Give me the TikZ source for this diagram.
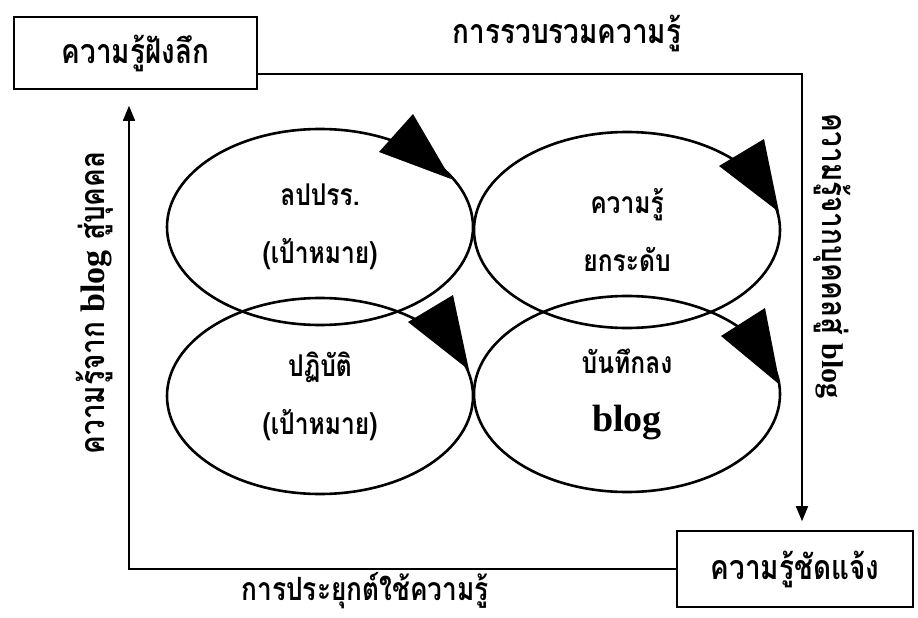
\documentclass[tikz,border=0pt]{standalone}
\usepackage{fontspec}
\setmainfont{Liberation Serif}
\newfontfamily\thai[Script=Thai,FakeStretch=0.82]{Loma}
\usetikzlibrary{arrows.meta,shapes.geometric}
\begin{document}
\begin{tikzpicture}[x=1pt,y=-1pt,
  thaitxt/.style={font=\thai\bfseries\fontsize{34}{38}\selectfont,inner sep=0pt},
  box/.style={draw,line width=1.6pt,inner sep=0pt,thaitxt},
  ell/.style={draw,ellipse,line width=2.6pt,minimum width=306pt,minimum height=196pt,inner sep=0pt,align=center,font=\thai\bfseries\fontsize{30}{58}\selectfont},
  conn/.style={line width=1.6pt},
  tip/.style={-{Triangle[length=15pt,width=12pt]}},
  head/.style={fill=black}
]
\useasboundingbox (0,0) rectangle (918,618);
% boxes
\node[box,minimum width=243pt,minimum height=72pt] (b1) at (135.5,53) {ความรู้ฝังลึก};
\node[box,minimum width=236pt,minimum height=76pt] (b2) at (795,569) {ความรู้ชัดแจ้ง};
% ellipses
\node[ell] (e1) at (320,227) {ลปปรร.\\(เป้าหมาย)};
\node[ell] (e2) at (627,230) {ความรู้\\ยกระดับ};
\node[ell] (e3) at (320,396) {ปฏิบัติ\\(เป้าหมาย)};
\node[ell] (e4) at (627,394) {บันทึกลง\\{\rmfamily\fontsize{38}{58}\selectfont blog}};
% arrowheads on the ellipses
\fill[head] (413,114) -- (379,152) -- (451,179) -- cycle;
\fill[head] (764,139) -- (719,166) -- (779,212) -- cycle;
\fill[head] (453,295) -- (408,322) -- (469,370) -- cycle;
\fill[head] (765,308) -- (721,336) -- (780,385) -- cycle;
% connectors
\coordinate (c1) at (802,74);
\coordinate (c2) at (129,569);
\draw[conn,tip] (b1.east |- c1) -- (c1) -- ([yshift=9pt]b2.north -| c1);
\draw[conn,tip] (b2.west) -- (c2) -- ([yshift=-16pt]b1.south -| c2);
% labels
\node[thaitxt] (l1) at (567,33) {การรวบรวมความรู้};
\node[thaitxt,font=\thai\bfseries\fontsize{32}{36}\selectfont] (l2) at (365,591) {การประยุกต์ใช้ความรู้};
\node[thaitxt,rotate=90] (l3) at (95,303) {ความรู้จาก {\rmfamily\fontsize{34}{38}\selectfont blog} สู่บุคคล};
\node[thaitxt,rotate=-90] (l4) at (832,256) {ความรู้จากบุคคลสู่ {\rmfamily\fontsize{30}{38}\selectfont blog}};
\end{tikzpicture}
\end{document}
